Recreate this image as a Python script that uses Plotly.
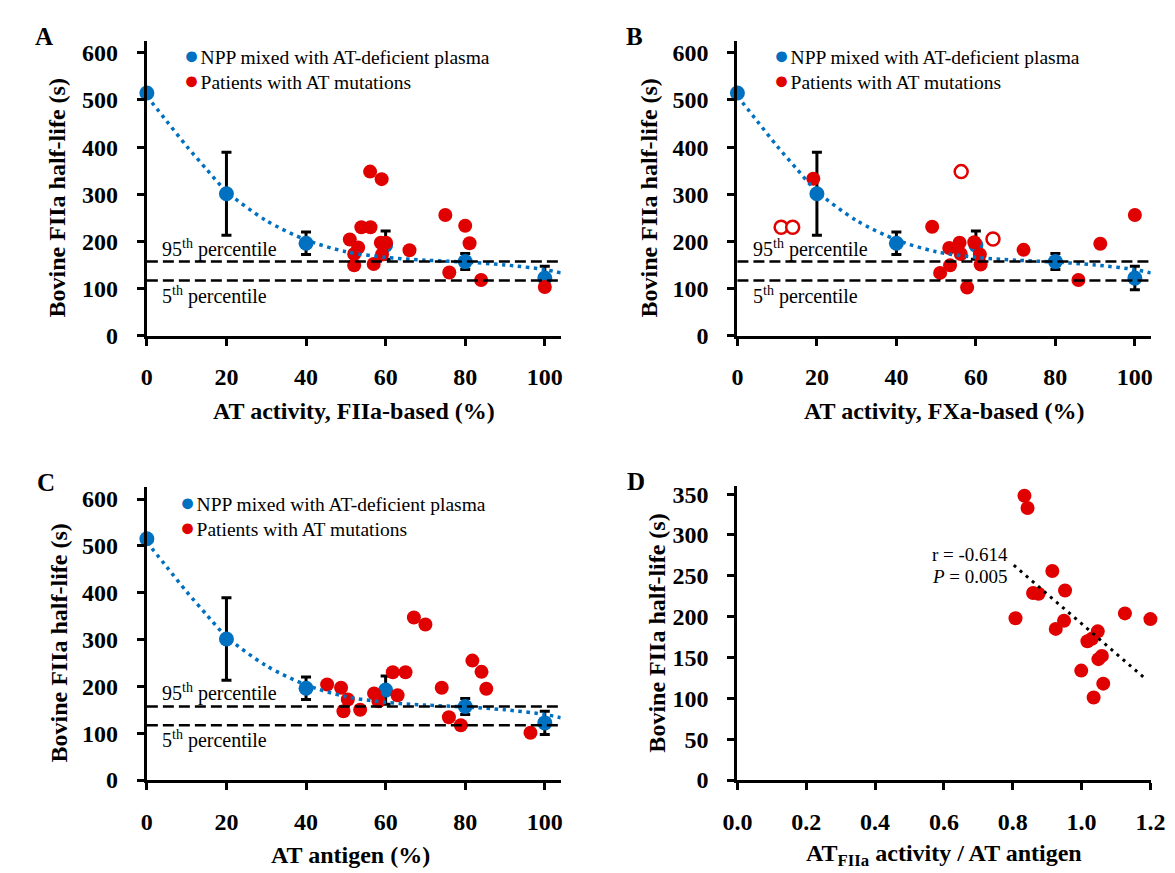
import plotly.graph_objects as go

# ---------------- data ----------------
npp_x = [0, 20, 40, 60, 80, 100]
npp_y = [515, 301, 196, 192, 157, 122]
npp_err = [0, 88, 24, 30, 17, 25]

fit_x = [0, 5, 10, 15, 20, 30, 40, 50, 60, 70, 80, 90, 100, 104]
fit_y = [508, 455, 402, 353, 306, 244, 203, 178, 166, 160, 156, 150, 140, 133]

pct95 = 157
pct5 = 117

# Panel A: AT activity FIIa-based
A_x = [56.1, 59.0, 75.0, 80.0, 81.1, 76.0, 84.0, 100.0, 66.0, 51.0, 53.9, 56.2, 53.1, 52.1, 52.1, 57.0, 59.1, 58.8, 60.1]
A_y = [348, 332, 256, 233, 196, 134, 118, 103, 181, 204, 230, 230, 187, 173, 149, 152, 172, 197, 197]

# Panel B: AT activity FXa-based (filled and open symbols)
B_x = [19.1, 49.0, 100.0, 91.3, 72.0, 53.3, 55.9, 59.6, 56.2, 61.0, 61.2, 53.5, 51.0, 57.8, 85.8]
B_y = [333, 231, 256, 195, 182, 186, 197, 198, 173, 172, 151, 149, 133, 102, 118]
B_open_x = [11.0, 13.9, 56.3, 64.3]
B_open_y = [230, 230, 348, 205]

# Panel C: AT antigen
C_x = [67.1, 70.0, 81.8, 84.1, 85.3, 74.1, 75.9, 78.9, 96.4, 61.8, 65.0, 63.0, 45.3, 48.8, 50.5, 49.4, 53.6, 57.1, 58.2]
C_y = [347, 332, 255, 231, 195, 197, 134, 117, 101, 230, 230, 181, 204, 197, 172, 147, 150, 185, 168]

# Panel D: ratio
D_x = [0.834, 0.843, 0.915, 0.859, 0.875, 0.952, 0.808, 0.949, 0.925, 1.047, 1.017, 1.030, 1.059, 1.049, 0.999, 1.063, 1.035, 1.126, 1.200]
D_y = [348, 333, 256, 229, 228, 232, 198, 195, 185, 182, 170, 173, 152, 148, 134, 118, 101, 204, 197]
D_trend_x = [0.803, 1.188]
D_trend_y = [263, 123]

x_ticks_pct = [0, 20, 40, 60, 80, 100]
y_ticks_hl = [0, 100, 200, 300, 400, 500, 600]
x_ticks_ratio = [0.0, 0.2, 0.4, 0.6, 0.8, 1.0, 1.2]
x_ticklabels_ratio = ["0.0", "0.2", "0.4", "0.6", "0.8", "1.0", "1.2"]
y_ticks_D = [0, 50, 100, 150, 200, 250, 300, 350]

# ---------------- style ----------------
W, H = 1175, 873
SERIF = "Liberation Serif"
BLUE = "#0070C0"
RED = "#E00000"


def fx(p):
    return p / W


def fy(p):
    return 1 - p / H


fig = go.Figure()

panels = [
    ("x", "y", A_x, A_y),
    ("x2", "y2", B_x, B_y),
    ("x3", "y3", C_x, C_y),
]

for xa, ya, rx, ry in panels:
    # NPP points with error bars
    fig.add_trace(go.Scatter(
        x=npp_x, y=npp_y, xaxis=xa, yaxis=ya, mode="markers",
        marker=dict(size=15, color=BLUE),
        error_y=dict(type="data", array=npp_err, visible=True, color="black", thickness=3, width=5),
        cliponaxis=False, showlegend=False, hoverinfo="skip"))
    # patients
    fig.add_trace(go.Scatter(
        x=rx, y=ry, xaxis=xa, yaxis=ya, mode="markers",
        marker=dict(size=14, color=RED),
        cliponaxis=False, showlegend=False, hoverinfo="skip"))
    if xa == "x2":
        fig.add_trace(go.Scatter(
            x=B_open_x, y=B_open_y, xaxis=xa, yaxis=ya, mode="markers",
            marker=dict(size=13, color="white", line=dict(color=RED, width=2.5)),
            cliponaxis=False, showlegend=False, hoverinfo="skip"))
    # fit curve
    fig.add_trace(go.Scatter(
        x=fit_x, y=fit_y, xaxis=xa, yaxis=ya, mode="lines",
        line=dict(color=BLUE, width=3.5, dash="3.5px,4.5px", shape="spline", smoothing=0.8),
        cliponaxis=False, showlegend=False, hoverinfo="skip"))
    # percentile lines
    for v in (pct95, pct5):
        fig.add_shape(type="line", xref=f"{xa} domain", yref=ya, x0=0, x1=1, y0=v, y1=v,
                      line=dict(color="black", width=2.5, dash="11px,5px"), layer="above")

# Panel D
fig.add_trace(go.Scatter(
    x=D_x, y=D_y, xaxis="x4", yaxis="y4", mode="markers",
    marker=dict(size=14, color=RED), cliponaxis=False, showlegend=False, hoverinfo="skip"))
fig.add_trace(go.Scatter(
    x=D_trend_x, y=D_trend_y, xaxis="x4", yaxis="y4", mode="lines",
    line=dict(color="black", width=3, dash="3px,5px"), cliponaxis=False,
    showlegend=False, hoverinfo="skip"))

tickfont = dict(family=SERIF, size=24, color="black", weight="bold")
common = dict(showline=True, linecolor="black", linewidth=3, ticks="outside", ticklen=7,
              tickwidth=3, tickcolor="black", showgrid=False, zeroline=False,
              tickfont=tickfont, fixedrange=True)
xcommon = dict(common, ticklabelstandoff=11)
ycommon = dict(common, ticklabelstandoff=14)

# pixel anchors of the axes
xA = (127, 127 + 104 * 4.08)
xB = (732.5, 732.5 + 104 * 4.075)
yTop = (330, 330 - 625 * 0.4805)
yBot = (783.3, 783.3 - 625 * 0.4777)
yD = (783.3, 783.3 - 360 * 0.8331)
xD = (732.5, 1157)

fig.update_layout(
    width=W, height=H, margin=dict(l=0, r=0, t=0, b=0),
    paper_bgcolor="white", plot_bgcolor="white", showlegend=False,
    xaxis=dict(xcommon, domain=[fx(xA[0]), fx(xA[1])], range=[0, 104], tickvals=x_ticks_pct, anchor="y"),
    yaxis=dict(ycommon, domain=[fy(yTop[0]), fy(yTop[1])], range=[0, 625], tickvals=y_ticks_hl, anchor="x"),
    xaxis2=dict(xcommon, domain=[fx(xB[0]), fx(xB[1])], range=[0, 104], tickvals=x_ticks_pct, anchor="y2"),
    yaxis2=dict(ycommon, domain=[fy(yTop[0]), fy(yTop[1])], range=[0, 625], tickvals=y_ticks_hl, anchor="x2"),
    xaxis3=dict(xcommon, domain=[fx(xA[0]), fx(xA[1])], range=[0, 104], tickvals=x_ticks_pct, anchor="y3"),
    yaxis3=dict(ycommon, domain=[fy(yBot[0]), fy(yBot[1])], range=[0, 625], tickvals=y_ticks_hl, anchor="x3"),
    xaxis4=dict(xcommon, domain=[fx(xD[0]), fx(xD[1])], range=[0, 1.203], tickvals=x_ticks_ratio, ticktext=x_ticklabels_ratio, anchor="y4"),
    yaxis4=dict(ycommon, domain=[fy(yD[0]), fy(yD[1])], range=[0, 360], tickvals=y_ticks_D, anchor="x4"),
)

ann = []


def text(x, y, s, size, bold=False, angle=0, xanchor="center"):
    ann.append(dict(x=fx(x), y=fy(y), xref="paper", yref="paper", text=s, showarrow=False,
                    xanchor=xanchor, yanchor="middle", textangle=angle, align="left",
                    font=dict(family=SERIF, size=size, color="black", weight="bold" if bold else "normal")))


# panel letters
text(22, 25, "A", 25, bold=True)
text(627, 25, "B", 25, bold=True)
text(24, 480, "C", 25, bold=True)
text(629, 479, "D", 25, bold=True)

# axis titles
yt = "Bovine FIIa half-life (s)"
text(35, 190, yt, 24, bold=True, angle=-90)
text(642, 190, yt, 24, bold=True, angle=-90)
text(37, 644, yt, 24, bold=True, angle=-90)
text(650, 633, yt, 24, bold=True, angle=-90)
text(339, 407, "AT activity, FIIa-based (%)", 24, bold=True)
text(944, 407, "AT activity, FXa-based (%)", 24, bold=True)
text(336, 860, "AT antigen (%)", 24, bold=True)
text(944, 860, "AT<sub>FIIa</sub> activity / AT antigen", 24, bold=True)

# legends (one two-line text block per panel)
leg = (f"<span style='color:{BLUE};font-size:25px'>●</span><span style='font-size:6px'> </span>NPP mixed with AT-deficient plasma"
       f"<br><span style='color:{RED};font-size:25px'>●</span><span style='font-size:6px'> </span>Patients with AT mutations")
for lx, ly in [(163, 57.5), (768, 57.5), (159, 512.5)]:
    text(lx, ly, leg, 19.5, xanchor="left")

# percentile labels
for px0, base in [(140, 330), (746, 330), (140, 783.3)]:
    text(px0, base - 89, "95<sup>th</sup> percentile", 20, xanchor="left")
    text(px0, base - 41, "5<sup>th</sup> percentile", 20, xanchor="left")

# correlation text
text(930, 553, "r = -0.614", 19, xanchor="left")
text(930, 576, "<i>P</i> = 0.005", 19, xanchor="left")

fig.update_layout(annotations=ann)
fig.write_html("out.html")
